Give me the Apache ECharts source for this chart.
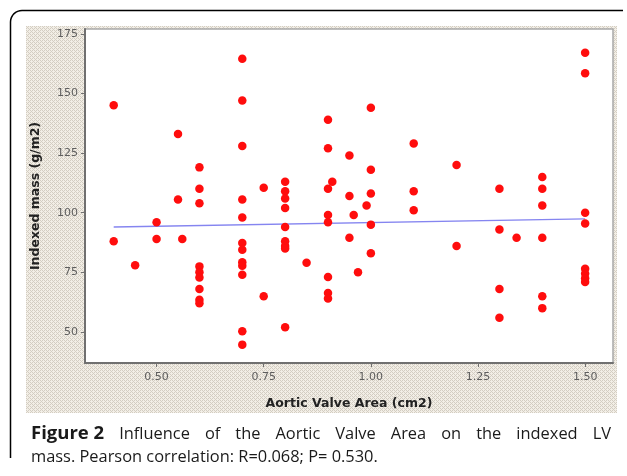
<!DOCTYPE html>
<html><head><meta charset="utf-8">
<script src="https://cdn.jsdelivr.net/npm/echarts@6/dist/echarts.min.js"></script>
<style>html,body{margin:0;padding:0;background:#fff}#c{width:627px;height:476px}</style>
</head><body><div id="c"></div>
<script>
// Data
const aorticValveArea = [
  0.40,0.40,0.45,0.50,0.50,0.55,0.55,0.56,
  0.60,0.60,0.60,0.60,0.60,0.60,0.60,0.60,0.60,
  0.70,0.70,0.70,0.70,0.70,0.70,0.70,0.70,0.70,0.70,0.70,0.70,
  0.75,0.75,
  0.80,0.80,0.80,0.80,0.80,0.80,0.80,0.80,0.80,
  0.85,
  0.90,0.90,0.90,0.90,0.90,0.90,0.90,0.90,0.91,
  0.95,0.95,0.95,0.96,0.97,0.99,
  1.00,1.00,1.00,1.00,1.00,
  1.10,1.10,1.10,
  1.20,1.20,
  1.30,1.30,1.30,1.30,1.34,
  1.40,1.40,1.40,1.40,1.40,1.40,
  1.50,1.50,1.50,1.50,1.50,1.50,1.50,1.50
];
const indexedMass = [
  145,88,78,96,89,133,105.5,89,
  119,110,104,77.5,75,72.8,68,63.5,62,
  164.5,147,128,105.5,98,87.3,84.5,79.2,77.8,74,50.3,44.7,
  110.5,65,
  113,109,106,102,94,88,86,85,52,
  79,
  139,127,110,99,96,73,66.3,64,113,
  124,107,89.5,99,75,103,
  144,118,108,95,83,
  129,109,101,
  120,86,
  110,93,68,56,89.5,
  115,110,103,89.5,65,60,
  167,158.5,100,95.5,76.5,74.5,72.5,71
];
const fitX = [0.40, 1.50];
const fitY = [94.0, 97.4];
const xTicks = [0.50, 0.75, 1.00, 1.25, 1.50];
const yTicks = [50, 75, 100, 125, 150, 175];
const xTickLabels = ['0.50','0.75','1.00','1.25','1.50'];
const xTitle = 'Aortic Valve Area (cm2)';
const yTitle = 'Indexed mass (g/m2)';
const captionBold = 'Figure 2';
const captionLine1 = 'Influence of the Aortic Valve Area on the indexed LV';
const captionLine2 = 'mass. Pearson correlation: R=0.068; P= 0.530.';

// background pattern tile
const tile = document.createElement('canvas');
tile.width = 4; tile.height = 4;
const tc = tile.getContext('2d');
tc.fillStyle = '#f2eee6'; tc.fillRect(0,0,4,4);
tc.fillStyle = '#d3cdc2';
[[0,0],[2,0],[1,1],[0,2],[2,2],[3,3]].forEach(p=>tc.fillRect(p[0],p[1],1,1));

// caption: fit font size so line 2 spans the reference width, justify line 1
const capFamily = '"Open Sans"';
const mc = document.createElement('canvas').getContext('2d');
mc.font = '20px ' + capFamily;
const capSize = Math.min(19, 20 * 347 / mc.measureText(captionLine2).width);
const capFont = capSize.toFixed(2) + 'px ' + capFamily;
const capBoldFont = 'bold 18.5px ' + capFamily;
const words = [{t:captionBold, b:true}].concat(captionLine1.split(' ').map(t=>({t, b:false})));
let total = 0;
words.forEach(w=>{ mc.font = w.b ? capBoldFont : capFont; w.w = mc.measureText(w.t).width; total += w.w; });
const lineLeft = 31, lineRight = 611;
const gap = (lineRight - lineLeft - total) / (words.length - 1);
const capElems = [];
let cx = lineLeft;
words.forEach(w=>{
  capElems.push({type:'text', x: cx, y: 434, style:{text:w.t, font: w.b?capBoldFont:capFont, fill:'#1a1a1a', verticalAlign:'middle'}});
  cx += w.w + gap;
});
capElems.push({type:'text', x: lineLeft, y: 457, style:{text:captionLine2, font:capFont, fill:'#1a1a1a', verticalAlign:'middle'}});

// rounded frame corner points
const framePts = [[10.5,458]];
for (let i=0;i<=8;i++){ const a = Math.PI + i*(Math.PI/2)/8; framePts.push([22+11.5*Math.cos(a), 22+11.5*Math.sin(a)]); }
framePts.push([623,10.5]);

const scatterData = aorticValveArea.map((x,i)=>[x, indexedMass[i]]);
const fitData = fitX.map((x,i)=>[x, fitY[i]]);

const chart = echarts.init(document.getElementById('c'), null, {renderer:'canvas'});
chart.setOption({
  backgroundColor: '#fff',
  animation: false,
  graphic: [
    {type:'rect', z:-100, shape:{x:26, y:26, width:591, height:387}, style:{fill:{image: tile, repeat:'repeat'}}},
    {type:'polyline', z:100, shape:{points:framePts}, style:{fill:null, stroke:'#000', lineWidth:1.5}}
  ].concat(capElems),
  grid: {left:85, top:29, right:14, bottom:113, show:true, backgroundColor:'#fff', borderColor:'#a9a9a9', borderWidth:1.5},
  xAxis: {
    type:'value', min:0.333, max:1.565,
    name: xTitle, nameLocation:'middle', nameGap:34,
    nameTextStyle:{fontFamily:'DejaVu Sans', fontWeight:'bold', fontSize:12.5, color:'#222'},
    axisLine:{show:true, lineStyle:{color:'#707070', width:2}},
    axisTick:{show:true, length:4, customValues:xTicks, lineStyle:{color:'#707070'}},
    axisLabel:{customValues:xTicks, formatter:v=>{const i=xTicks.indexOf(v); return i>=0?xTickLabels[i]:v.toFixed(2);}, fontFamily:'DejaVu Sans', fontSize:11, color:'#5e5e5e', margin:9},
    splitLine:{show:false}
  },
  yAxis: {
    type:'value', min:37, max:177,
    name: yTitle, nameLocation:'middle', nameGap:43,
    nameTextStyle:{fontFamily:'DejaVu Sans', fontWeight:'bold', fontSize:12.5, color:'#222'},
    axisLine:{show:true, lineStyle:{color:'#707070', width:2}},
    axisTick:{show:true, length:4, customValues:yTicks, lineStyle:{color:'#707070'}},
    axisLabel:{customValues:yTicks, fontFamily:'DejaVu Sans', fontSize:11, color:'#5e5e5e', margin:7},
    splitLine:{show:false}
  },
  series: [
    {type:'line', data:fitData, symbol:'none', lineStyle:{color:'#8585f0', width:1.4}, z:1},
    {type:'scatter', data:scatterData, symbol:'circle', symbolSize:8.5, itemStyle:{color:'#ff0d0d', opacity:1}, z:2}
  ]
});
</script></body></html>
